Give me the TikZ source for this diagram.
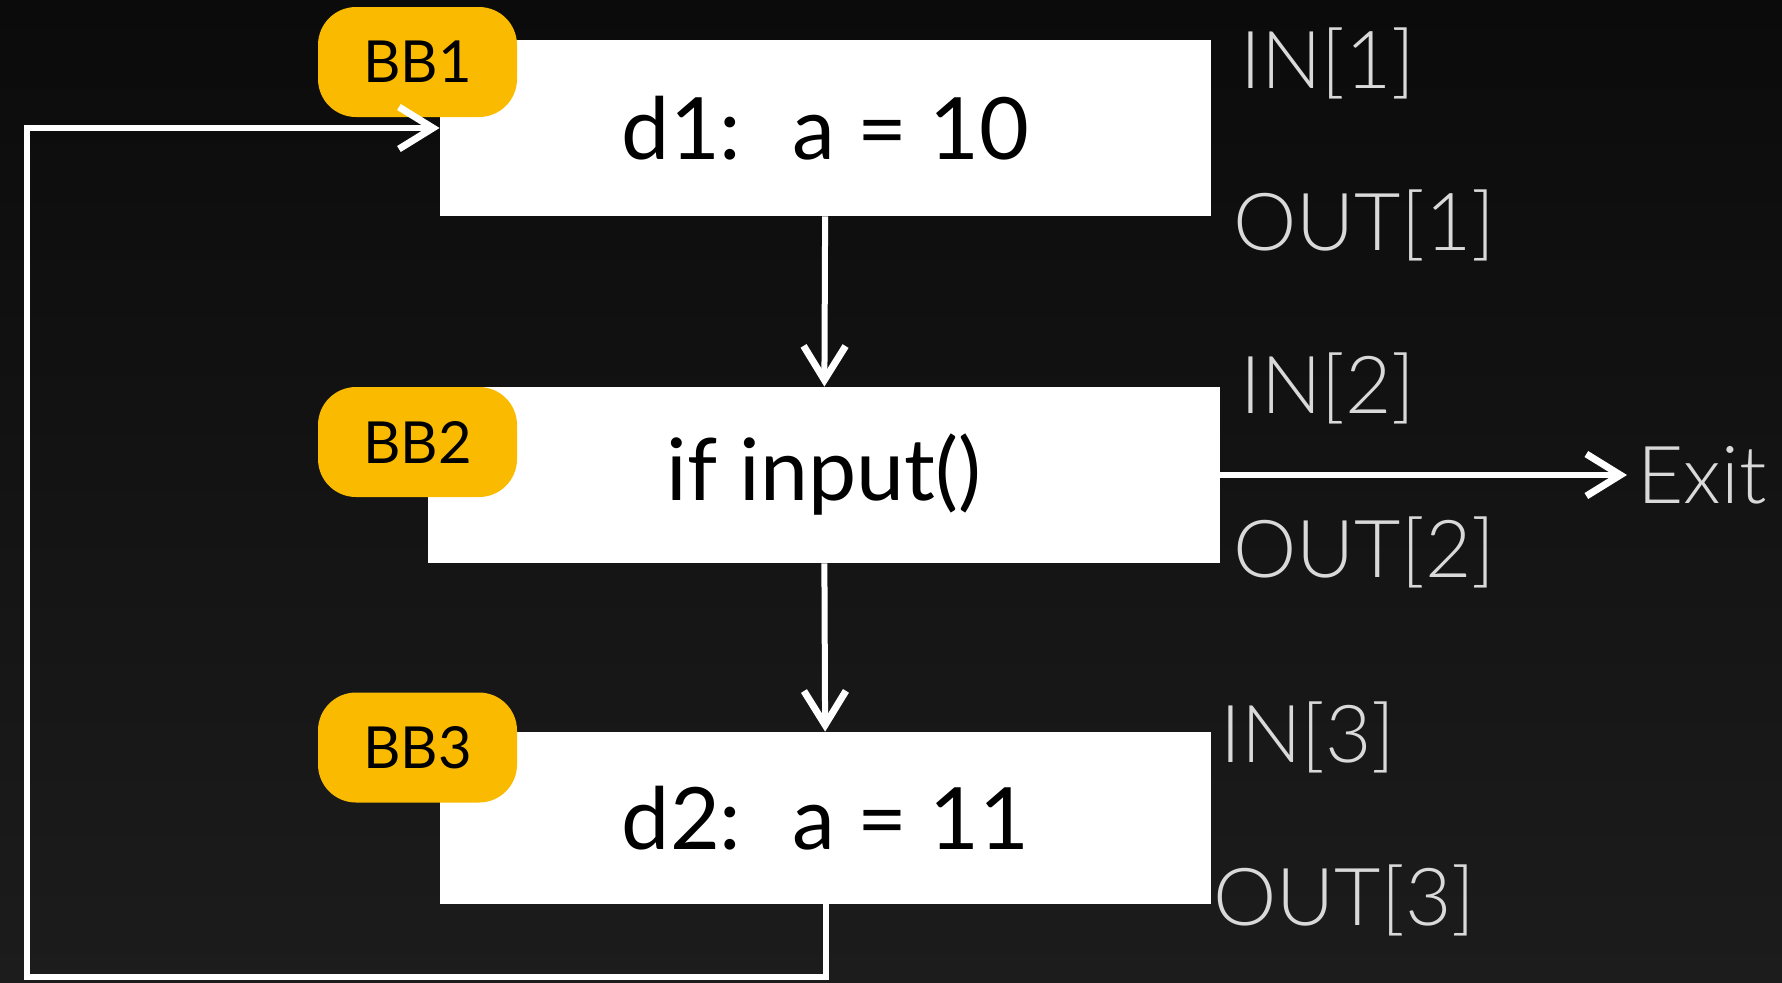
\documentclass[tikz,border=0pt]{standalone}
\usepackage{fontspec}
\setmainfont{Lato}
\newfontfamily\thinfont{Lato Light}
\usepackage{tikz}
\usetikzlibrary{arrows.meta,positioning}
\definecolor{bgtop}{HTML}{0B0B0B}
\definecolor{bgbot}{HTML}{1C1C1C}
\definecolor{tagyellow}{HTML}{F9BA00}
\definecolor{lblgray}{HTML}{D9D9D9}

\begin{document}
\begin{tikzpicture}[x=0.5pt,y=-0.5pt,
  blk/.style={fill=white, minimum width=385.5pt, minimum height=88pt, inner sep=0pt,
    font=\fontsize{43}{50}\selectfont},
  tag/.style={fill=tagyellow, rounded corners=19pt, minimum width=99.5pt,
    minimum height=55pt, inner sep=0pt, font=\fontsize{29}{34}\selectfont},
  lbl/.style={text=lblgray, inner sep=0pt, anchor=base west,
    font=\thinfont\fontsize{40}{48}\selectfont},
  flow/.style={draw=white, line width=3pt,
    -{Straight Barb[length=17pt,width=21pt,line width=3.5pt]}}]
% dark backdrop
\shade[top color=bgtop, bottom color=bgbot] (0,0) rectangle (1782,982);
\useasboundingbox (0,0) rectangle (1782,982);

% basic blocks
\node[blk] (b1) at (825.5,128) {d1: \ a = 10};
\node[blk, minimum width=396pt] (b2) at (824,475) {if input()};
\node[blk, minimum height=86pt] (b3) at (825.5,818) {d2: \ a = 11};

\node[tag] (t1) at (417.5,62) {BB1};
\node[tag] (t2) at (417.5,442) {BB2};
\node[tag] (t3) at (417.5,747.5) {BB3};

% in/out sets
\node[lbl] (in1) at (1240,88) {IN[1]};
\node[lbl] (out1) at (1233,250) {OUT[1]};
\node[lbl] (in2) at (1240,413) {IN[2]};
\node[lbl] (out2) at (1233,577) {OUT[2]};
\node[lbl] (in3) at (1220,762) {IN[3]};
\node[lbl] (out3) at (1213,925) {OUT[3]};
\node[text=lblgray, inner sep=0pt, inner xsep=5pt, anchor=west,
  font=\thinfont\fontsize{40}{48}\selectfont] (exit) at (1627,475) {Exit};

% edges
\coordinate (loop) at (27,977);
\path (b1) edge[flow] (b2);
\path (b2) edge[flow] (b3);
\path (b2.east) edge[flow] (exit.west);
\draw[flow] (b3.south) |- (loop) |- (b1.west);
\end{tikzpicture}
\end{document}
